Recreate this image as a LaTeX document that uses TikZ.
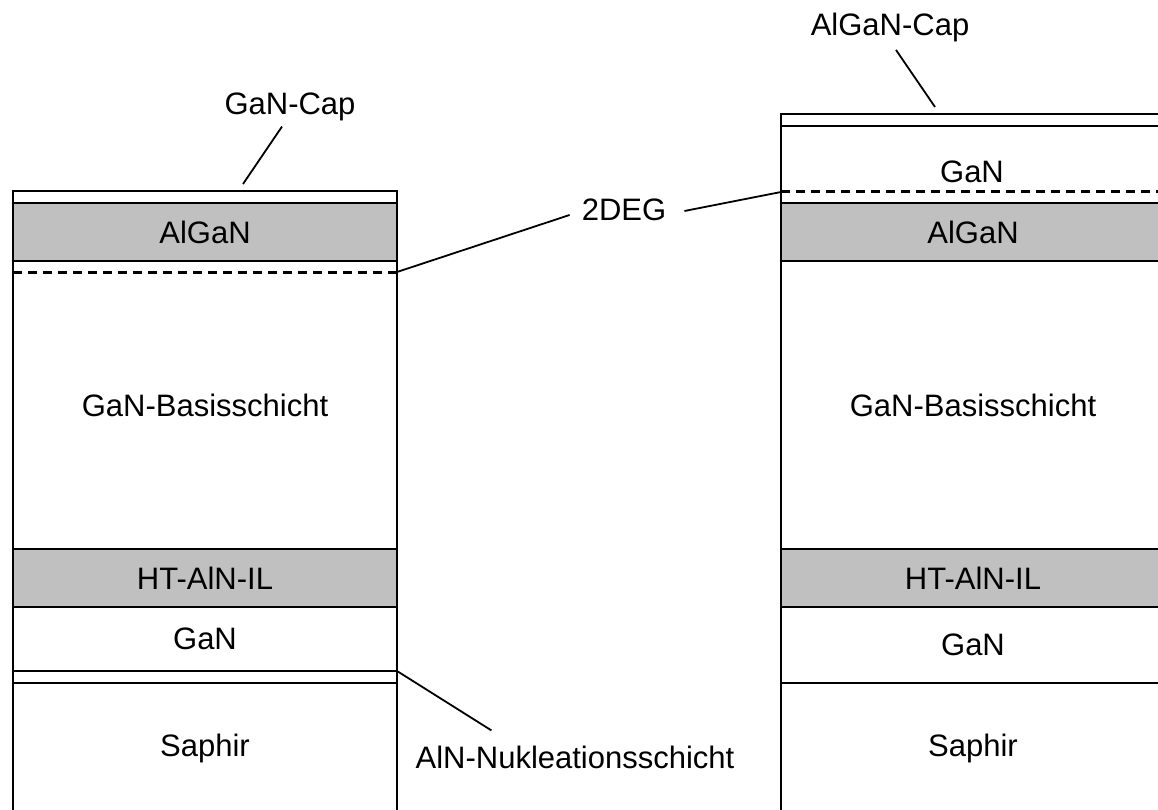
\documentclass[tikz,border=0pt]{standalone}
\usepackage{fontspec}
\setmainfont{Liberation Sans}
\usetikzlibrary{positioning}
\definecolor{layergray}{RGB}{192,192,192}
\tikzset
{
    layer/.style   = {rectangle, draw=black, line width=2.8pt, minimum width=384pt, inner sep=0pt, outer sep=0pt, align=center},
    barrier/.style = {layer, fill=layergray},
    tag/.style     = {inner sep=0pt},
    leader/.style  = {line width=1.8pt},
    gasline/.style = {line width=3pt, dash pattern=on 9pt off 6pt},
    every node/.style = {font=\fontsize{31}{36}\selectfont}
}

\begin{document}
\begin{tikzpicture}[x=1pt, y=-1pt]
		\useasboundingbox (0,0) rectangle (1158,810);
		\clip (0,0) rectangle (1158,810);
		
		% HEMT mit GaN-Cap
		\node[layer, anchor=north west, minimum height=12pt] (capL) at (13,191) {};
		\node[barrier, minimum height=58pt, below=0pt of capL] (alganL) {AlGaN};
		\node[layer, minimum height=288pt, below=0pt of alganL] (basisL) {GaN-Basisschicht};
		\node[barrier, minimum height=58pt, below=0pt of basisL] (htL) {HT-AlN-IL};
		\node[layer, minimum height=64pt, below=0pt of htL] (ganL) {GaN};
		\node[layer, minimum height=12pt, below=0pt of ganL] (nuklL) {};
		\node[layer, minimum height=130pt, below=0pt of nuklL] (saphirL) {Saphir};
		\coordinate (degL) at ([yshift=-11pt]basisL.north east);
		\draw[gasline] ([yshift=-11pt]basisL.north west) -- (degL);
		
		% HEMT mit AlGaN-Cap
		\node[layer, anchor=north west, minimum height=12pt] (capR) at (781,114) {};
		\node[layer, minimum height=77pt, below=0pt of capR] (ganR) {};
		\node[tag] (ganRtxt) at (972,172) {GaN};
		\node[barrier, minimum height=58pt, below=0pt of ganR] (alganR) {AlGaN};
		\node[layer, minimum height=288pt, below=0pt of alganR] (basisR) {GaN-Basisschicht};
		\node[barrier, minimum height=58pt, below=0pt of basisR] (htR) {HT-AlN-IL};
		\node[layer, minimum height=76pt, below=0pt of htR] (ganR2) {GaN};
		\node[layer, minimum height=130pt, below=0pt of ganR2] (saphirR) {Saphir};
		\coordinate (degR) at ([yshift=11pt]ganR.south west);
		\draw[gasline] (degR) -- ([yshift=11pt]ganR.south east);
		
		% Beschriftungen
		\node (gancap) at (290,107) {GaN-Cap};
		\coordinate (gancaptip) at (243,184);
		\draw[leader] ([shift={(-8,2)}]gancap.south) -- (gancaptip);
		
		\node (alcap) at (890,27) {AlGaN-Cap};
		\coordinate (alcaptip) at (935,107);
		\draw[leader] ([shift={(6,5)}]alcap.south) -- (alcaptip);
		
		\node[tag] (twodeg) at (624,210) {2DEG};
		\draw[leader] ([shift={(-12,5)}]twodeg.west) -- (degL);
		\draw[leader] ([shift={(18,1)}]twodeg.east) -- (degR);
		
		\node[tag] (nukl) at (575,757) {AlN-Nukleationsschicht};
		\draw[leader] ([shift={(76,-15)}]nukl.north west) -- (nuklL.north east);
		
\end{tikzpicture}
\end{document}
